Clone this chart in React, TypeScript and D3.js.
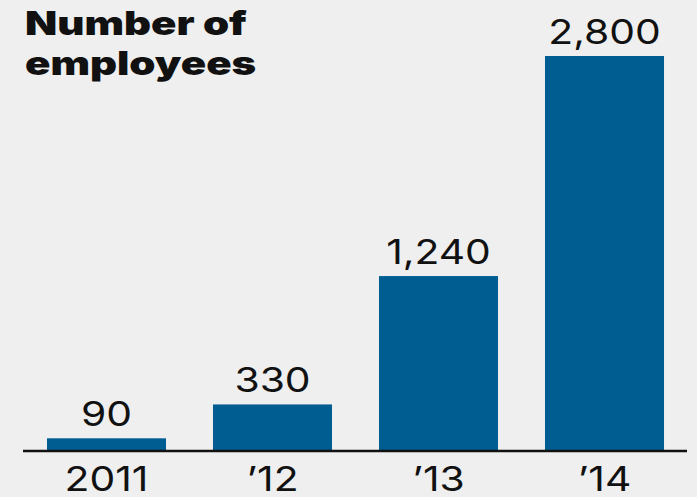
import React from "react";
import * as d3 from "d3";

const categories = ["2011", "\u201912", "\u201913", "\u201914"];
const employees = [90, 330, 1240, 2800];
const titleLines = ["Number of", "employees"];

const W = 697;
const H = 497;
const BAR = "#005d91";
const BG = "#efefef";

export default function App() {
  const x = d3
    .scaleBand<string>()
    .domain(categories)
    .range([23.5, 687.5])
    .paddingInner(0.283)
    .paddingOuter(0.1415);
  const y = d3.scaleLinear().domain([0, 2800]).range([451, 56]);
  const fmt = d3.format(",");
  const numFont = "Inter, 'Open Sans', sans-serif";
  return (
    <svg
      width={W}
      height={H}
      style={{ position: "absolute", left: 0, top: 0 }}
    >
      <rect width={W} height={H} fill={BG} />
      <g>
        {titleLines.map((t, i) => (
          <text
            key={t}
            transform={`translate(25,${35 + i * 40}) scale(1.27,1)`}
            fontFamily="Inter, 'DejaVu Sans', sans-serif"
            fontWeight={900}
            fontSize={33}
            fill="#111"
          >
            {t}
          </text>
        ))}
      </g>
      {employees.map((v, i) => {
        const cx = (x(categories[i]) as number) + x.bandwidth() / 2;
        const ly = Math.max(y(v) - 12, 35);
        return (
          <g key={categories[i]}>
            <rect
              x={x(categories[i])}
              y={y(v)}
              width={x.bandwidth()}
              height={y(0) - y(v)}
              fill={BAR}
            />
            <text
              transform={`translate(${cx},${ly}) scale(1.2,1)`}
              textAnchor="middle"
              fontFamily={numFont}
              fontWeight={400}
              fontSize={34}
              fill="#111"
            >
              {fmt(v)}
            </text>
            <text
              transform={`translate(${cx},${491}) scale(1.2,1)`}
              textAnchor="middle"
              fontFamily={numFont}
              fontWeight={400}
              fontSize={34}
              fill="#111"
            >
              {categories[i]}
            </text>
          </g>
        );
      })}
      <line x1={23} x2={687} y1={451} y2={451} stroke="#111" strokeWidth={2.5} />
    </svg>
  );
}
